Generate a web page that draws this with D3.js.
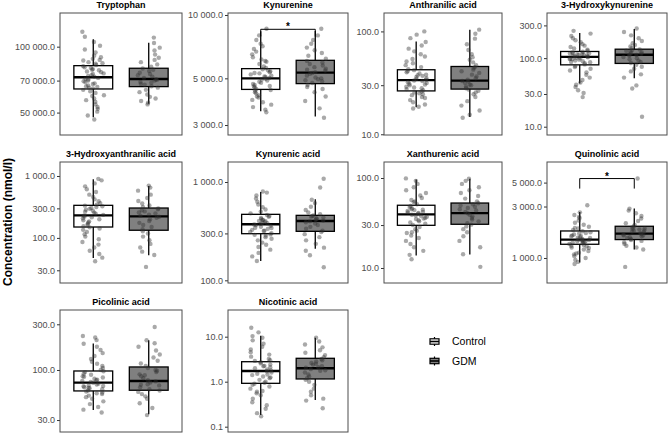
<!DOCTYPE html>
<html>
<head>
<meta charset="utf-8">
<script src="https://cdn.jsdelivr.net/npm/d3@7"></script>
<style>
  body { margin: 0; background: #fff; }
  text { font-family: "Liberation Sans", Arial, sans-serif; }
</style>
</head>
<body>
<svg id="chart" width="669" height="434"></svg>
<script>
// metabolites, one facet each
const panelNames = ["Tryptophan", "Kynurenine", "Anthranilic acid", "3-Hydroxykynurenine",
  "3-Hydroxyanthranilic acid", "Kynurenic acid", "Xanthurenic acid", "Quinolinic acid",
  "Picolinic acid", "Nicotinic acid"];
const groups = ["Control", "GDM"];

// log axis ticks per facet
const tickValues = [
  [50000, 70000, 100000], [3000, 5000, 10000], [10, 30, 100], [10, 30, 100, 300],
  [30, 100, 300, 1000], [100, 300, 1000], [10, 30, 100], [1000, 3000, 5000],
  [30, 100, 300], [0.1, 1, 10]
];
const yDomains = [
  [39500, 142500], [2690, 10220], [9.84, 151], [7.57, 455],
  [18.7, 1683], [93.9, 1598], [6.81, 150.6], [586, 7762],
  [22.5, 423], [0.0762, 39.2]
];

// box stats: [whisker low, q1, median, q3, whisker high]
const ctrlBox = [
  [47600, 64100, 72500, 81900, 108100], [3490, 4430, 5000, 5560, 8370],
  [18.3, 26.4, 33.6, 42.4, 79.9], [42.7, 79.8, 104, 125, 232],
  [47.3, 150, 232, 336, 885], [157, 298, 372, 469, 791],
  [13.8, 29.8, 39.5, 49.8, 96], [907, 1340, 1481, 1780, 2670],
  [38.2, 60.4, 73.8, 97.6, 189], [0.182, 0.92, 1.73, 2.78, 10.5]
];
const gdmBox = [
  [54800, 65700, 71200, 79700, 104300], [3290, 4720, 5320, 6090, 8400],
  [14.7, 27.5, 33.3, 45.6, 103.9], [51, 83.7, 112, 135, 266],
  [52.4, 133, 223, 304, 689], [210, 315, 401, 458, 667],
  [14.1, 30.6, 40.8, 52.7, 98], [1196, 1481, 1683, 1968, 2871],
  [34.4, 61.4, 76.7, 107.5, 204], [0.39, 1.15, 1.99, 3.31, 9.52]
];

const ctrlPts = [
  [46500, 48500, 50500, 52000, 53000, 54500, 56000, 57000, 58000, 59500, 60000, 61500, 62500, 63500,
   64500, 65000, 65500, 66000, 66500, 67500, 68000, 69000, 69500, 70000, 71000, 71500, 72000,
   73000, 73500, 74000, 75000, 75500, 76500, 77000, 78000, 78500, 79000, 80000, 80500, 81500,
   82500, 83500, 84000, 85000, 86500, 87000, 88000, 89500, 91000, 94000, 97000, 101000, 105000, 111000, 117000],
  [3450, 3550, 3650, 3750, 3850, 3950, 4050, 4100, 4150, 4250, 4300, 4380, 4400,
   4450, 4520, 4580, 4600, 4650, 4700, 4760, 4820, 4880, 4940, 4980,
   5020, 5080, 5100, 5150, 5220, 5280, 5300, 5350, 5400, 5460, 5520,
   5600, 5700, 5850, 6000, 6050, 6150, 6300, 6500, 6700, 6900, 7100, 7300, 7600, 8000, 8600],
  [17.8, 18.5, 19.5, 20.5, 21.5, 22.5, 23, 24, 24.5, 25, 25.5, 26,
   26.8, 27.5, 28, 28.5, 29, 30, 30.5, 31, 31.5, 32, 33, 33.3,
   34, 34.5, 35, 36, 37, 37.5, 38, 39, 40, 41, 42,
   43, 45, 47, 49, 51, 54, 57, 60, 64, 68, 73, 79, 86, 93, 100],
  [27, 31, 34, 38, 41, 44, 48, 52, 57, 62, 66, 70, 74, 77,
   81, 84, 87, 88, 90, 92, 95, 96, 97, 99, 100, 101, 103,
   105, 106, 107, 109, 111, 112, 113, 115, 117, 118, 119, 121, 124,
   128, 133, 138, 145, 152, 160, 170, 182, 195, 210, 228, 250],
  [42, 48, 55, 62, 70, 78, 86, 95, 105, 115, 125, 135, 142, 148,
   155, 162, 170, 178, 185, 192, 200, 208, 215, 222, 228,
   236, 245, 255, 265, 275, 285, 295, 305, 315, 325, 332,
   345, 365, 390, 420, 460, 500, 550, 610, 680, 760, 850, 900],
  [157, 175, 190, 205, 218, 230, 242, 255, 265, 275, 285, 290, 293,
   302, 310, 318, 320, 326, 334, 340, 342, 350, 358, 365, 370,
   376, 380, 385, 393, 400, 402, 410, 412, 422, 432, 442, 452, 462,
   480, 500, 525, 555, 590, 630, 680, 730, 780, 800],
  [12.5, 14, 15.5, 17, 18.5, 20, 21.5, 23, 24.5, 25, 26, 27, 28.5,
   30, 31, 32, 33, 34, 35, 35.5, 36, 37, 38, 38.5, 39,
   40, 41, 41.5, 42, 43, 44, 44.5, 45, 46, 47.5, 49,
   51, 54, 55, 57, 60, 64, 68, 73, 79, 86, 93, 99],
  [880, 920, 960, 1000, 1040, 1080, 1100, 1120, 1160, 1200, 1240, 1250, 1280, 1300, 1320,
   1350, 1370, 1390, 1400, 1410, 1420, 1430, 1450, 1460, 1470, 1480,
   1500, 1530, 1540, 1560, 1590, 1600, 1620, 1650, 1690, 1700, 1730, 1770,
   1820, 1880, 1900, 1950, 2030, 2120, 2220, 2350, 2400, 2500, 2650, 3080],
  [36, 38.5, 41, 44, 47, 50, 52, 54, 56, 57, 58, 59.5,
   61, 63, 64.5, 65, 66, 67.5, 68, 69, 70.5, 72, 73.5,
   75, 77, 78, 79, 81, 83.5, 85, 86, 89, 92, 95, 97,
   100, 105, 110, 116, 122, 130, 140, 150, 162, 175, 188, 205, 218, 226],
  [0.17, 0.2, 0.25, 0.3, 0.35, 0.42, 0.5, 0.55, 0.6, 0.62, 0.7, 0.78, 0.85, 0.9,
   0.95, 1.0, 1.1, 1.2, 1.25, 1.3, 1.4, 1.45, 1.5, 1.6, 1.7,
   1.78, 1.88, 2.0, 2.1, 2.2, 2.25, 2.4, 2.55, 2.7,
   2.9, 3.0, 3.2, 3.6, 4.0, 4.5, 5.2, 6.0, 7.0, 8.3, 9.5, 10.3, 12.5, 15.8]
];
const gdmPts = [
  [54500, 55500, 56500, 58000, 59000, 60500, 62000, 63500, 65000,
   66000, 67000, 67500, 68500, 69000, 70000, 70500, 71000,
   72000, 73000, 74000, 75000, 76000, 77500, 78500, 79500,
   81000, 83000, 85000, 87000, 89000, 92000, 96000, 99000, 104000, 110000],
  [3250, 3600, 3900, 4100, 4300, 4450, 4550, 4650,
   4750, 4850, 4900, 4950, 5000, 5050, 5150, 5250, 5300,
   5350, 5450, 5500, 5550, 5650, 5750, 5850, 5950, 6050,
   6200, 6400, 6600, 6800, 7000, 7300, 7600, 8000, 8600],
  [14.5, 15.5, 17, 19, 21, 23, 24.5, 25.5, 26.5, 27.2,
   28, 29, 30, 30.5, 31.5, 32.5, 33,
   34, 35, 36.5, 38, 39.5, 41, 42.5, 44, 45,
   47, 50, 53, 56, 60, 66, 75, 85, 95, 104],
  [14, 36, 40, 52, 58, 64, 70, 75, 80,
   85, 88, 92, 96, 100, 104, 108, 111,
   113, 116, 119, 122, 125, 128, 131, 134,
   140, 148, 156, 165, 178, 195, 215, 240, 270],
  [34, 53, 60, 70, 80, 92, 105, 118, 128,
   138, 150, 162, 175, 188, 200, 212, 220,
   228, 238, 248, 258, 268, 278, 290, 300,
   315, 335, 360, 395, 440, 500, 580, 650, 700],
  [136, 180, 200, 215, 235, 255, 275, 295, 310,
   320, 335, 350, 365, 378, 390, 398,
   405, 412, 420, 428, 436, 444, 452, 457,
   470, 490, 520, 560, 610, 660, 880, 1080],
  [10.3, 14.2, 17, 20, 22.5, 25, 27, 29, 30.3,
   31.5, 33, 34.5, 36, 37.5, 39, 40.5,
   42, 43.5, 45, 46.5, 48, 49.5, 51, 52.5,
   55, 59, 63, 68, 73, 79, 86, 93, 98],
  [826, 1200, 1250, 1300, 1350, 1400, 1440, 1470,
   1500, 1530, 1560, 1590, 1620, 1620, 1650, 1670,
   1700, 1730, 1760, 1780, 1800, 1840, 1860, 1880, 1920, 1960,
   2020, 2100, 2200, 2320, 2450, 2600, 2750, 2870, 5450],
  [33.8, 40, 45, 50, 53, 56, 59, 61,
   63, 66, 69, 70, 71, 74, 76,
   78, 82, 86, 88, 90, 95, 98, 100, 105,
   110, 117, 125, 135, 145, 160, 175, 190, 204, 281],
  [0.256, 0.38, 0.42, 0.5, 0.6, 0.7, 0.85, 1.0, 1.1,
   1.2, 1.3, 1.45, 1.6, 1.75, 1.8, 1.9,
   2.05, 2.1, 2.2, 2.4, 2.5, 2.6, 2.8, 3.0, 3.2,
   3.5, 3.9, 4.4, 5.0, 5.8, 6.7, 7.8, 9.5]
];

// significance brackets (facet index, bracket height)
const sigPanels = [1, 7];
const sigHeights = [8550, 5450];
const sigTips = [7900, 4400];

//////////////////////////
// layout
//////////////////////////
const colX = [[60, 182], [228, 348], [384, 502], [547, 667]];
const rowY = [[13, 135], [162, 283], [310, 432]];

const svg = d3.select("#chart");
const fmt = d3.formatLocale({ decimal: ".", thousands: " ", grouping: [3], currency: ["", ""] }).format(",.1f");
const boxes = [ctrlBox, gdmBox];
const pts = [ctrlPts, gdmPts];
const fills = ["#ffffff", "#808080"];

// fixed horizontal jitter (same picture every load)
function jitter(n) {
    const s = Math.sin(n) * 43758.5453;
    return s - Math.floor(s) - 0.5;
}

panelNames.forEach(function(name, i) {
    const cx = colX[i % 4], ry = rowY[Math.floor(i / 4)];
    const x = d3.scalePoint().domain(groups).range(cx).padding(0.6);
    const y = d3.scaleLog().domain(yDomains[i]).range([ry[1], ry[0]]);
    const step = x.step();
    const g = svg.append("g");

    g.append("text")
        .attr("x", (cx[0] + cx[1]) / 2)
        .attr("y", ry[0] - 5)
        .attr("text-anchor", "middle")
        .attr("font-size", "9px")
        .attr("font-weight", "bold")
        .attr("fill", "#000")
        .text(name);

    const ax = g.append("g")
        .attr("transform", "translate(" + cx[0] + ",0)")
        .call(d3.axisLeft(y).tickValues(tickValues[i]).tickFormat(fmt).tickSize(3).tickPadding(2));
    ax.select(".domain").remove();
    ax.selectAll(".tick line").attr("stroke", "#333");
    ax.selectAll(".tick text").attr("fill", "#4d4d4d").attr("font-size", "9px")
        .style("font-family", "'Liberation Sans', Arial, sans-serif");

    groups.forEach(function(grp, k) {
        const b = boxes[k][i];
        const xc = x(grp), hw = step * 0.35;
        g.append("line")
            .attr("x1", xc).attr("x2", xc)
            .attr("y1", y(b[0])).attr("y2", y(b[4]))
            .attr("stroke", "#000").attr("stroke-width", 1.3);
        g.append("rect")
            .attr("x", xc - hw).attr("y", y(b[3]))
            .attr("width", hw * 2).attr("height", y(b[1]) - y(b[3]))
            .attr("fill", fills[k]).attr("stroke", "#000").attr("stroke-width", 1.3);
        g.append("line")
            .attr("x1", xc - hw).attr("x2", xc + hw)
            .attr("y1", y(b[2])).attr("y2", y(b[2]))
            .attr("stroke", "#000").attr("stroke-width", 2.3);
    });

    groups.forEach(function(grp, k) {
        const xc = x(grp);
        g.selectAll(null)
            .data(pts[k][i])
            .enter()
            .append("circle")
            .attr("cx", function(d, j) {
                return xc + jitter(j * 12.9898 + i * 78.233 + k * 37.719 + 1) * 2 * 0.2 * step;
            })
            .attr("cy", function(d) { return y(d); })
            .attr("r", 2.2)
            .attr("fill", "#333")
            .attr("fill-opacity", 0.42);
    });

    const s = sigPanels.indexOf(i);
    if (s >= 0) {
        const x1 = x(groups[0]), x2 = x(groups[1]);
        const yt = y(sigHeights[s]), yb = y(sigTips[s]);
        g.append("path")
            .attr("d", "M" + x1 + "," + yb + "V" + yt + "H" + x2 + "V" + yb)
            .attr("fill", "none").attr("stroke", "#000").attr("stroke-width", 1);
        g.append("text")
            .attr("x", (x1 + x2) / 2).attr("y", yt + 1)
            .attr("text-anchor", "middle")
            .attr("font-size", "10px").attr("font-weight", "bold")
            .text("*");
    }

    g.append("rect")
        .attr("x", cx[0]).attr("y", ry[0])
        .attr("width", cx[1] - cx[0]).attr("height", ry[1] - ry[0])
        .attr("fill", "none").attr("stroke", "#4d4d4d").attr("stroke-width", 1);
});

// y axis title
svg.append("text")
    .attr("transform", "translate(12," + 222 + ") rotate(-90)")
    .attr("text-anchor", "middle")
    .attr("font-size", "12px")
    .attr("font-weight", "bold")
    .text("Concentration (nmol/l)");

// legend
const legend = svg.append("g").attr("transform", "translate(434.5,341.5)");
groups.forEach(function(grp, k) {
    const lg = legend.append("g").attr("transform", "translate(0," + (k * 19.5) + ")");
    lg.append("line").attr("x1", 0).attr("x2", 0).attr("y1", -4.5).attr("y2", 4.5)
        .attr("stroke", "#000").attr("stroke-width", 1.2);
    lg.append("rect").attr("x", -4.5).attr("y", -2.7).attr("width", 9).attr("height", 5.4)
        .attr("fill", fills[k]).attr("stroke", "#000").attr("stroke-width", 1.2);
    lg.append("line").attr("x1", -4.5).attr("x2", 4.5).attr("y1", 0).attr("y2", 0)
        .attr("stroke", "#000").attr("stroke-width", 1.6);
    lg.append("text").attr("x", 17.5).attr("y", 0).attr("dy", "0.35em")
        .attr("font-size", "10.5px").text(grp);
});
</script>
</body>
</html>
